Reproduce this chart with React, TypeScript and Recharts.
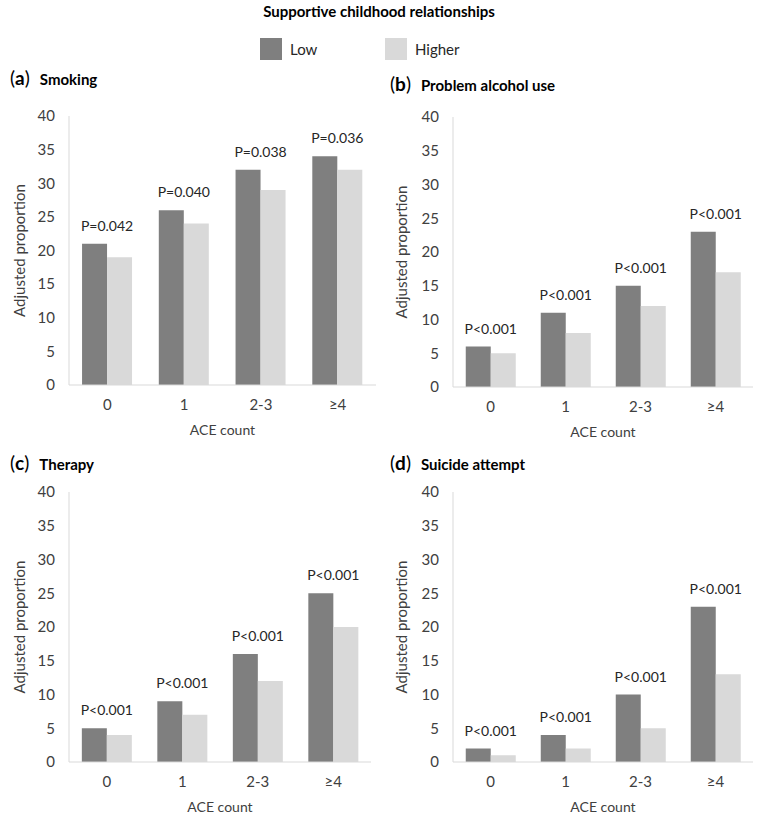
import React from 'react';
import { BarChart, Bar, XAxis, YAxis, LabelList } from 'recharts';

const categories = ['0', '1', '2-3', '≥4'];
const yTicks = [0, 5, 10, 15, 20, 25, 30, 35, 40];

const smokingLow = [21, 26, 32, 34];
const smokingHigher = [19, 24, 29, 32];
const smokingP = ['P=0.042', 'P=0.040', 'P=0.038', 'P=0.036'];

const alcoholLow = [6, 11, 15, 23];
const alcoholHigher = [5, 8, 12, 17];
const alcoholP = ['P<0.001', 'P<0.001', 'P<0.001', 'P<0.001'];

const therapyLow = [5, 9, 16, 25];
const therapyHigher = [4, 7, 12, 20];
const therapyP = ['P<0.001', 'P<0.001', 'P<0.001', 'P<0.001'];

const suicideLow = [2, 4, 10, 23];
const suicideHigher = [1, 2, 5, 13];
const suicideP = ['P<0.001', 'P<0.001', 'P<0.001', 'P<0.001'];

const DARK = '#7f7f7f';
const LIGHT = '#d9d9d9';
const FONT = 'Lato, "Open Sans", sans-serif';

function rows(low: number[], higher: number[], p: string[]) {
  return categories.map((cat, i) => ({ cat, low: low[i], higher: higher[i], p: p[i] }));
}

// p-value sits centred over the pair, i.e. on the right edge of the dark bar
const PLabel = (props: any) => {
  const { x, y, width, value } = props;
  return (
    <text x={x + width} y={y - 13} textAnchor="middle" fontSize={14} fill="#262626" fontFamily={FONT}>
      {value}
    </text>
  );
};

interface PanelProps {
  letter: string;
  title: string;
  titleTop: number;
  left: number;
  top: number;
  plotLeft: number;
  plotRight: number;
  plotTop: number;
  plotBottom: number;
  labelX: number;
  data: { cat: string; low: number; higher: number; p: string }[];
}

function Panel({ letter, title, titleTop, left, top, plotLeft, plotRight, plotTop, plotBottom, labelX, data }: PanelProps) {
  const width = 380;
  const axisH = 52;
  const height = plotBottom - top + axisH + 3;
  const yAxisW = plotLeft - left;
  return (
    <>
      <div style={{ position: 'absolute', left: left + 10, top: titleTop, whiteSpace: 'nowrap', color: '#000' }}>
        <span style={{ fontSize: 19 }}>(<b>{letter}</b>)</span>
        <span style={{ fontSize: 15, fontWeight: 'bold', marginLeft: 10 }}>{title}</span>
      </div>
      <div style={{ position: 'absolute', left, top }}>
        <BarChart
          width={width}
          height={height}
          data={data}
          margin={{ top: plotTop - top, right: left + width - plotRight, bottom: 3, left: 0 }}
          barCategoryGap="17%"
          barGap={0}
        >
          <XAxis
            dataKey="cat"
            height={axisH}
            axisLine={{ stroke: LIGHT }}
            tickLine={false}
            tickMargin={8}
            tick={{ fill: '#404040', fontSize: 15, fontFamily: FONT }}
            label={{ value: 'ACE count', position: 'insideBottom', offset: 2, fill: '#404040', fontSize: 14, fontFamily: FONT }}
          />
          <YAxis
            width={yAxisW}
            domain={[0, 40]}
            ticks={yTicks}
            interval={0}
            axisLine={{ stroke: LIGHT }}
            tickLine={false}
            tickMargin={8}
            tick={{ fill: '#404040', fontSize: 15, fontFamily: FONT }}
            label={{
              value: 'Adjusted proportion',
              angle: -90,
              position: 'insideLeft',
              offset: labelX - left,
              style: { textAnchor: 'middle' },
              fill: '#404040',
              fontSize: 15,
              fontFamily: FONT,
            }}
          />
          <Bar dataKey="low" fill={DARK} isAnimationActive={false}>
            <LabelList dataKey="p" content={PLabel} />
          </Bar>
          <Bar dataKey="higher" fill={LIGHT} isAnimationActive={false} />
        </BarChart>
      </div>
    </>
  );
}

export default function App() {
  return (
    <div style={{ position: 'absolute', left: 0, top: 0, width: 758, height: 816, background: '#fff', fontFamily: FONT }}>
      <div style={{ position: 'absolute', top: 2, left: 0, width: 758, textAlign: 'center', fontSize: 15, fontWeight: 'bold' }}>
        Supportive childhood relationships
      </div>
      <div style={{ position: 'absolute', top: 38, left: 260, display: 'flex', alignItems: 'center', fontSize: 15, color: '#262626' }}>
        <span style={{ width: 22, height: 22, background: DARK, display: 'inline-block' }} />
        <span style={{ marginLeft: 8, width: 95 }}>Low</span>
        <span style={{ width: 22, height: 22, background: LIGHT, display: 'inline-block' }} />
        <span style={{ marginLeft: 8 }}>Higher</span>
      </div>

      <Panel letter="a" title="Smoking" titleTop={66} left={0} top={100} plotLeft={69} plotRight={376} plotTop={116} plotBottom={385} labelX={20} data={rows(smokingLow, smokingHigher, smokingP)} />
      <Panel letter="b" title="Problem alcohol use" titleTop={72} left={380} top={100} plotLeft={453} plotRight={753} plotTop={117} plotBottom={387} labelX={402} data={rows(alcoholLow, alcoholHigher, alcoholP)} />
      <Panel letter="c" title="Therapy" titleTop={451} left={0} top={476} plotLeft={69} plotRight={371} plotTop={492} plotBottom={762} labelX={20} data={rows(therapyLow, therapyHigher, therapyP)} />
      <Panel letter="d" title="Suicide attempt" titleTop={451} left={380} top={476} plotLeft={453} plotRight={753} plotTop={492} plotBottom={762} labelX={402} data={rows(suicideLow, suicideHigher, suicideP)} />
    </div>
  );
}
